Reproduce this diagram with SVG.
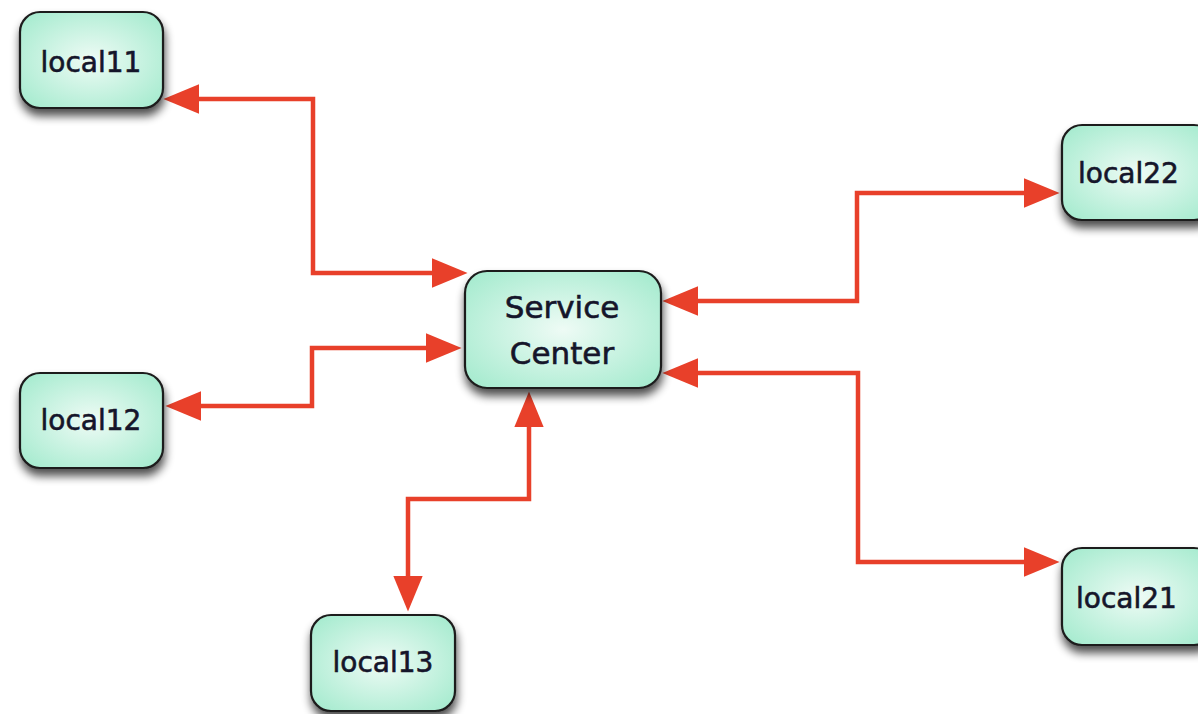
<svg xmlns="http://www.w3.org/2000/svg" width="1198" height="714" viewBox="0 0 1198 714">
  <style>
    .box { fill: url(#nodeFill); stroke: #1e1e1e; stroke-width: 2.2; filter: url(#shadow); }
    .lbl { font-family: "DejaVu Sans", "Noto Sans", sans-serif; font-size: 28px; fill: #15152a; stroke: #15152a; stroke-width: 0.6; text-anchor: middle; }
    .big { font-size: 31px; }
    .conn { fill: none; stroke: #e8402a; stroke-width: 4.5; stroke-linejoin: miter; }
  </style>
  <defs>
    <radialGradient id="nodeFill" cx="50%" cy="50%" r="65%">
      <stop offset="0" stop-color="#eefbf5"/>
      <stop offset="1" stop-color="#a6ebcf"/>
    </radialGradient>
    <filter id="shadow" x="-20%" y="-20%" width="140%" height="150%">
      <feGaussianBlur in="SourceAlpha" stdDeviation="5"/>
      <feOffset dx="1" dy="7" result="b"/>
      <feComponentTransfer><feFuncA type="linear" slope="0.7"/></feComponentTransfer>
      <feMerge><feMergeNode/><feMergeNode in="SourceGraphic"/></feMerge>
    </filter>
    <marker id="arr" markerUnits="userSpaceOnUse" markerWidth="36" markerHeight="30" viewBox="0 0 34 28" refX="24" refY="14" orient="auto-start-reverse">
      <path d="M0,0 L34,14 L0,28 Z" fill="#e8402a"/>
    </marker>
  </defs>
  <rect width="1198" height="714" fill="#ffffff"/>

  <g id="connectors">
    <path class="conn" d="M174,99 H313 V273 H457" marker-start="url(#arr)" marker-end="url(#arr)"/>
    <path class="conn" d="M176,406 H312 V348 H451" marker-start="url(#arr)" marker-end="url(#arr)"/>
    <path class="conn" d="M529,402 V499 H408 V601" marker-start="url(#arr)" marker-end="url(#arr)"/>
    <path class="conn" d="M673,301 H857 V193 H1049" marker-start="url(#arr)" marker-end="url(#arr)"/>
    <path class="conn" d="M673,373 H858 V562 H1049" marker-start="url(#arr)" marker-end="url(#arr)"/>
  </g>

  <g id="local11">
    <rect class="box" x="20" y="12" width="143" height="96" rx="20"/>
    <text class="lbl" x="91" y="72">local11</text>
  </g>
  <g id="local12">
    <rect class="box" x="20" y="373" width="143" height="95" rx="20"/>
    <text class="lbl" x="91" y="430">local12</text>
  </g>
  <g id="local13">
    <rect class="box" x="311" y="615" width="144" height="96" rx="20"/>
    <text class="lbl" x="383" y="672">local13</text>
  </g>
  <g id="service-center">
    <rect class="box" x="465" y="271" width="196" height="117" rx="22"/>
    <text class="lbl big" x="562" y="318">Service</text>
    <text class="lbl big" x="562" y="364">Center</text>
  </g>
  <g id="local22">
    <rect class="box" x="1062" y="125" width="152" height="95" rx="20"/>
    <text class="lbl" x="1078" y="183" style="text-anchor:start">local22</text>
  </g>
  <g id="local21">
    <rect class="box" x="1062" y="548" width="152" height="97" rx="20"/>
    <text class="lbl" x="1076" y="608" style="text-anchor:start">local21</text>
  </g>
</svg>
